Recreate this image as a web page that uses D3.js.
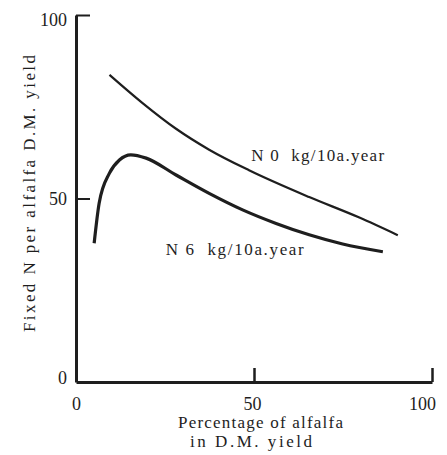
<!DOCTYPE html>
<html><head><meta charset="utf-8"><script src="https://cdn.jsdelivr.net/npm/d3@7"></script></head>
<body style="margin:0">
<svg id="chart" width="447" height="455"></svg>
<script>
const xTicks = [0, 50, 100];
const yTicks = [0, 50, 100];
const seriesNames = ["N 0  kg/10a.year", "N 6  kg/10a.year"];
const n0X = [9.4, 18.7, 28.1, 37.4, 48.6, 65.5, 79.6, 90.4];
const n0Y = [83.7, 76.0, 69.0, 63.3, 57.7, 50.4, 44.8, 40.0];
const n6X = [5.1, 6.5, 9.4, 12.2, 15.4, 19.7, 28.1, 37.4, 46.8, 56.2, 65.5, 74.9, 86.2];
const n6Y = [37.8, 48.7, 56.9, 60.5, 61.9, 61.0, 56.4, 51.4, 46.9, 43.2, 40.1, 37.6, 35.5];
const labelPos = [[49.2, 60.2], [25.2, 34.6]];

const svg = d3.select("#chart");
const x = d3.scaleLinear().domain([0, 100]).range([76, 432]);
const y = d3.scaleLinear().domain([0, 100]).range([382, 15]);
const ink = "#1e1e1e";
const FONT = "Tinos, 'Times New Roman', 'Liberation Serif', 'DejaVu Serif', serif";

function serif(sel, size) {
  sel.attr("font-family", "Liberation Serif")
     .style("font-family", FONT)
     .style("font-size", size + "px");
}

const gy = svg.append("g").attr("transform", `translate(${x(0)},0)`)
  .call(d3.axisLeft(y).tickValues(yTicks).tickSizeInner(-14).tickSizeOuter(0).tickPadding(9).tickFormat(d3.format("d")));
gy.attr("font-family", null);
gy.select(".domain").attr("stroke", ink).attr("stroke-width", 3);
gy.selectAll(".tick line").attr("stroke", ink).attr("stroke-width", 2)
  .attr("display", d => d === 0 ? "none" : null);
gy.selectAll(".tick text").attr("fill", ink).call(serif, 18)
  .attr("dy", d => d === 100 ? "0.6em" : d === 0 ? "0.1em" : "0.32em");

const gx = svg.append("g").attr("transform", `translate(0,${y(0)})`)
  .call(d3.axisBottom(x).tickValues(xTicks).tickSizeInner(-14).tickSizeOuter(0).tickPadding(15).tickFormat(d3.format("d")));
gx.attr("font-family", null);
gx.select(".domain").attr("stroke", ink).attr("stroke-width", 3);
gx.selectAll(".tick line").attr("stroke", ink).attr("stroke-width", 2.5)
  .attr("display", d => d === 0 ? "none" : null);
gx.selectAll(".tick text").attr("fill", ink).call(serif, 18)
  .attr("dx", d => d === 100 ? -10 : d === 50 ? -2 : 0);

svg.append("text").attr("transform", "translate(35,332) rotate(-90)")
  .attr("fill", ink).call(serif, 17)
  .attr("textLength", 277).attr("lengthAdjust", "spacing").text("Fixed N per alfalfa D.M. yield");
svg.append("text").attr("x", 178).attr("y", 428)
  .attr("fill", ink).call(serif, 17).attr("textLength", 165).attr("lengthAdjust", "spacing")
  .text("Percentage of alfalfa");
svg.append("text").attr("x", 190).attr("y", 447)
  .attr("fill", ink).call(serif, 17).attr("textLength", 122).attr("lengthAdjust", "spacing")
  .text("in D.M. yield");

const line = d3.line().x(d => x(d[0])).y(d => y(d[1])).curve(d3.curveMonotoneX);
const n0 = n0X.map((v, i) => [v, n0Y[i]]);
const n6 = n6X.map((v, i) => [v, n6Y[i]]);
svg.append("path").datum(n0).attr("d", line).attr("fill", "none").attr("stroke", ink).attr("stroke-width", 2.2);
svg.append("path").datum(n6).attr("d", line).attr("fill", "none").attr("stroke", ink).attr("stroke-width", 3.2);

const labelLen = [133, 138];
seriesNames.forEach((s, i) => {
  svg.append("text").attr("x", x(labelPos[i][0])).attr("y", y(labelPos[i][1]))
    .attr("fill", ink).call(serif, 17)
    .attr("textLength", labelLen[i]).attr("lengthAdjust", "spacing")
    .style("white-space", "pre").text(s);
});
</script>
</body>
</html>
